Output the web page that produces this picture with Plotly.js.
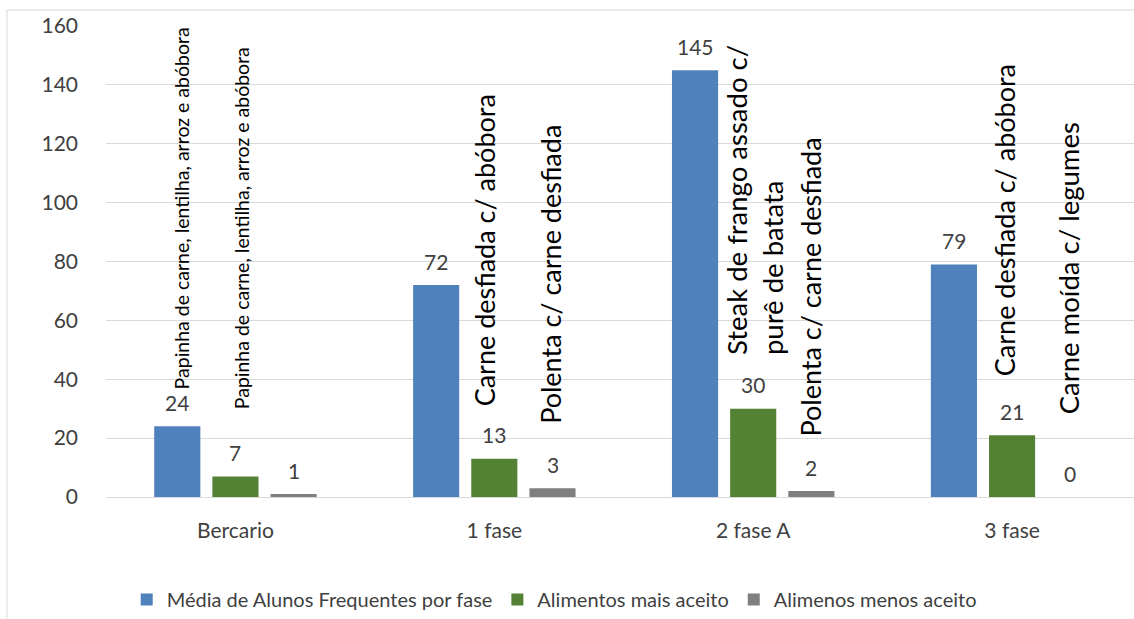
<!DOCTYPE html>
<html>
<head>
<meta charset="utf-8">
<script src="https://cdn.plot.ly/plotly-3.0.1.min.js"></script>
<style>
html,body{margin:0;padding:0;background:#fff;overflow:hidden;}
#chart{width:1134px;height:619px;}
</style>
</head>
<body>
<div id="chart"></div>
<script>
// ---- data ----
var categories = ['Bercario', '1 fase', '2 fase A', '3 fase'];
var seriesNames = ['Média de Alunos Frequentes por fase', 'Alimentos mais aceito', 'Alimenos menos aceito'];
var mediaAlunos = [24, 72, 145, 79];
var maisAceito = [7, 13, 30, 21];
var menosAceito = [1, 3, 2, 0];
var foodMost = ['Papinha de carne, lentilha, arroz e abóbora', 'Carne desfiada c/ abóbora', 'Steak de frango assado c/<br>purê de batata', 'Carne desfiada c/ abóbora'];
var foodLeast = ['Papinha de carne, lentilha, arroz e abóbora', 'Polenta c/ carne desfiada', 'Polenta c/ carne desfiada', 'Carne moída c/ legumes'];
var yTicks = [0, 20, 40, 60, 80, 100, 120, 140, 160];

// ---- style / layout ----
var colors = ['#4f81bd', '#548235', '#7f7f7f'];
var FONT = 'Lato, "Open Sans", sans-serif';
var txtColor = '#404040';
var slot = 0.2248; // offset of side bars in category units

var seriesVals = [mediaAlunos, maisAceito, menosAceito];
var traces = seriesVals.map(function (vals, s) {
  return {
    type: 'bar', x: categories, y: vals, name: seriesNames[s],
    marker: {color: colors[s]}, hoverinfo: 'skip'
  };
});

var annotations = [];
// value labels
seriesVals.forEach(function (vals, s) {
  vals.forEach(function (v, i) {
    annotations.push({
      x: i + (s - 1) * slot, y: v, xref: 'x', yref: 'y',
      text: String(v), showarrow: false, yanchor: 'middle', yshift: 24,
      font: {family: FONT, size: 21, color: txtColor}
    });
  });
});
// rotated food labels: [text, x (category units), bottom y (value units), size]
var foodPlacements = [
  [foodMost[0], -0.210, 35.9, 19.5],
  [foodLeast[0], 0.021, 29.1, 19.5],
  [foodMost[1], 0.960, 30.1, 27],
  [foodLeast[1], 1.219, 24.0, 27],
  [foodMost[2], 2.005, 47.7, 27.5],
  [foodLeast[2], 2.223, 20.0, 27],
  [foodMost[3], 2.972, 40.3, 27],
  [foodLeast[3], 3.216, 27.4, 27.5]
];
foodPlacements.forEach(function (p) {
  annotations.push({
    x: p[1], y: p[2], xref: 'x', yref: 'y', text: p[0], showarrow: false,
    textangle: -90, yanchor: 'bottom', xanchor: 'center', align: 'left',
    font: {family: FONT, size: p[3], color: '#000000'}
  });
});

var layout = {
  width: 1134, height: 619,
  margin: {l: 106, r: 0, t: 26, b: 120, pad: 0},
  paper_bgcolor: '#ffffff', plot_bgcolor: '#ffffff',
  font: {family: FONT, color: txtColor},
  barmode: 'group', bargap: 0.326, bargroupgap: 0.207,
  showlegend: true,
  legend: {
    orientation: 'h', x: 0.436, xanchor: 'center', y: -0.218, yanchor: 'middle',
    font: {family: FONT, size: 20, color: txtColor}, itemclick: false
  },
  xaxis: {
    type: 'category', range: [-0.5, 3.471], showgrid: false, zeroline: false,
    showline: false, ticks: '', ticklabelstandoff: 19,
    tickfont: {family: FONT, size: 21, color: txtColor}, fixedrange: true
  },
  yaxis: {
    range: [0, 160], tickvals: yTicks, ticktext: yTicks.map(String),
    showgrid: true, gridcolor: '#d9d9d9', gridwidth: 1,
    zeroline: true, zerolinecolor: '#d9d9d9', zerolinewidth: 1,
    showline: false, ticks: '', ticklabelstandoff: 27,
    tickfont: {family: FONT, size: 21, color: txtColor}, fixedrange: true
  },
  shapes: [{
    type: 'rect', xref: 'paper', yref: 'paper',
    x0: -0.0963, x1: 1.05, y0: -0.3, y1: 1.0338,
    line: {color: '#d9d9d9', width: 1}, fillcolor: 'rgba(0,0,0,0)', layer: 'below'
  }],
  annotations: annotations
};

Plotly.newPlot('chart', traces, layout, {displayModeBar: false, staticPlot: true});
</script>
</body>
</html>
